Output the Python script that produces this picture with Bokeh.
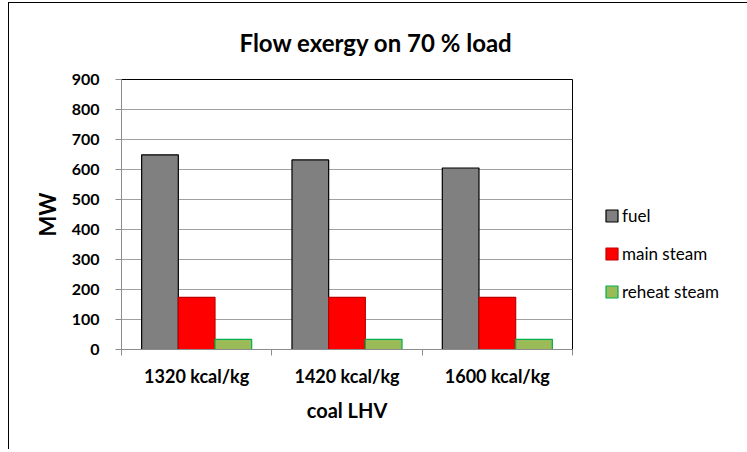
from bokeh.plotting import figure
from bokeh.layouts import column
from bokeh.models import FixedTicker, Legend, LegendItem, Range1d
from bokeh.embed import file_html
from bokeh.resources import INLINE

categories = ["1320 kcal/kg", "1420 kcal/kg", "1600 kcal/kg"]
series_names = ["fuel", "main steam", "reheat steam"]
fuel = [649, 632, 605]
main_steam = [174, 174, 174]
reheat_steam = [34, 34, 34]
y_ticks = [0, 100, 200, 300, 400, 500, 600, 700, 800, 900]

FONT = "Lato"
AXIS_GRAY = "#8c8c8c"

p = figure(frame_width=451, frame_height=270, output_backend="svg",
           toolbar_location=None,
           x_range=Range1d(0, len(categories)), y_range=Range1d(0, 900),
           min_border_left=112, min_border_right=172, min_border_top=76,
           min_border_bottom=100)

p.title.text = "Flow exergy on 70 % load"
p.title.align = "left"
p.title.offset = 118
p.title.standoff = 45
p.title.text_font = FONT
p.title.text_font_size = "24px"
p.title.text_font_style = "bold"
p.title.text_color = "#000000"

bw = 0.244
series = [fuel, main_steam, reheat_steam]
fills = ["#808080", "#ff0000", "#9bbb59"]
lines = ["#000000", "#c00000", "#00b050"]
offsets = [-bw, 0.0, bw]
renderers = []
for vals, fc, lc, off in zip(series, fills, lines, offsets):
    xs = [i + 0.5 + off for i in range(len(categories))]
    r = p.vbar(x=xs, top=vals, width=bw, bottom=0, fill_color=fc,
               line_color=lc, line_width=1.2)
    renderers.append(r)

# axes
p.yaxis.ticker = FixedTicker(ticks=y_ticks)
p.yaxis.axis_line_color = AXIS_GRAY
p.yaxis.major_tick_line_color = AXIS_GRAY
p.yaxis.major_tick_out = 6
p.yaxis.major_tick_in = 0
p.yaxis.minor_tick_line_color = None
p.yaxis.major_label_standoff = 16
p.yaxis.major_label_text_font = FONT
p.yaxis.major_label_text_font_style = "bold"
p.yaxis.major_label_text_font_size = "16px"
p.yaxis.major_label_text_color = "#000000"
p.yaxis.axis_label = "MW"
p.yaxis.axis_label_text_font = FONT
p.yaxis.axis_label_text_font_style = "bold"
p.yaxis.axis_label_text_font_size = "22px"
p.yaxis.axis_label_text_color = "#000000"
p.yaxis.axis_label_standoff = 8

p.xaxis.ticker = FixedTicker(ticks=[i + 0.5 for i in range(len(categories))],
                             minor_ticks=list(range(len(categories) + 1)))
p.xaxis.major_label_overrides = {i + 0.5: c for i, c in enumerate(categories)}
p.xaxis.axis_line_color = AXIS_GRAY
p.xaxis.major_tick_line_color = None
p.xaxis.major_tick_out = 0
p.xaxis.major_tick_in = 0
p.xaxis.minor_tick_line_color = AXIS_GRAY
p.xaxis.minor_tick_out = 6
p.xaxis.minor_tick_in = 0
p.xaxis.major_label_standoff = 9
p.xaxis.major_label_text_font = FONT
p.xaxis.major_label_text_font_style = "bold"
p.xaxis.major_label_text_font_size = "18px"
p.xaxis.major_label_text_color = "#000000"
p.xaxis.axis_label = "coal LHV"
p.xaxis.axis_label_text_font = FONT
p.xaxis.axis_label_text_font_style = "bold"
p.xaxis.axis_label_text_font_size = "20px"
p.xaxis.axis_label_text_color = "#000000"
p.xaxis.axis_label_standoff = 8

p.xgrid.grid_line_color = None
p.ygrid.ticker = FixedTicker(ticks=y_ticks)
p.ygrid.grid_line_color = "#a0a0a0"
p.ygrid.grid_line_width = 1
p.outline_line_color = "#000000"
p.outline_line_width = 1
p.background_fill_color = "#ffffff"
p.border_fill_color = "#ffffff"

legend = Legend(items=[LegendItem(label=n, renderers=[r])
                       for n, r in zip(series_names, renderers)],
                location=(32, 47), orientation="vertical",
                padding=0, margin=0, spacing=17,
                glyph_width=15, glyph_height=15, label_height=15,
                label_standoff=3, border_line_color=None,
                background_fill_alpha=0,
                label_text_font=FONT, label_text_font_size="17px",
                label_text_color="#000000")
p.add_layout(legend, "right")

page = column(p, styles={"border-left": "1.5px solid #000",
                         "border-top": "1.5px solid #000",
                         "border-right": "1.5px solid #000",
                         "margin-left": "8px", "margin-top": "2px"})

open("out.html", "w").write(file_html(page, INLINE))
